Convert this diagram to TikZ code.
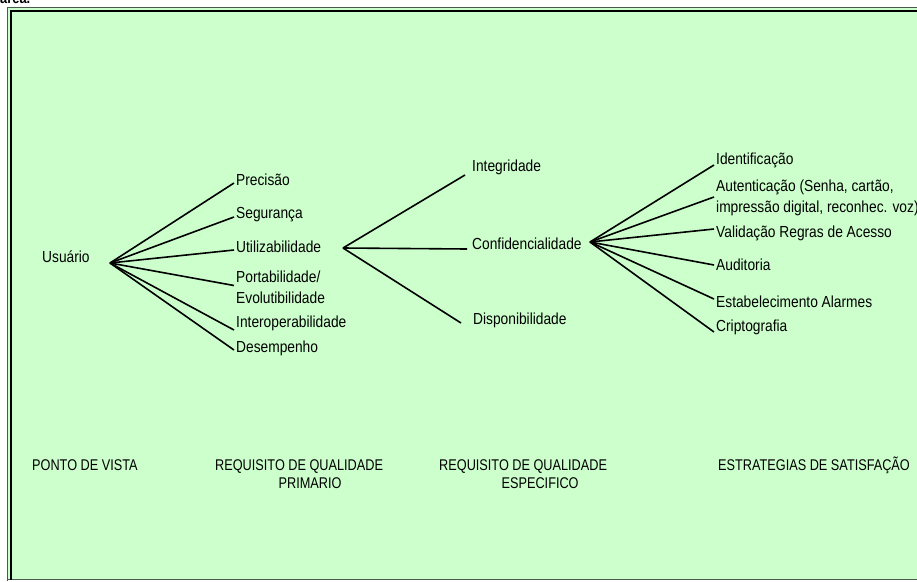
\documentclass[tikz,border=0pt]{standalone}
\usepackage{fontspec}
\setmainfont{Liberation Sans}[FakeStretch=0.86]
\newfontfamily\capsfont{Liberation Sans}[FakeStretch=0.82]
\definecolor{bggreen}{HTML}{CCFFCC}
\definecolor{framegray}{HTML}{4A5A4A}
\tikzset{
  lbl/.style={anchor=west, inner sep=2pt, align=left, font=\fontsize{16}{20.5}\selectfont},
  hdr/.style={anchor=west, inner sep=2pt, align=center, font=\capsfont\fontsize{15.5}{18}\selectfont},
  branch/.style={line width=1.6pt, black}
}
\begin{document}
\begin{tikzpicture}[x=1pt, y=-1pt]
        \useasboundingbox (0,0) rectangle (917,581);
        % Draw the green panel and its double frame
        \fill[bggreen] (8,8) rectangle (917,580);
        \draw[framegray, line width=1pt] (7.5,581) -- (7.5,7.5) -- (917,7.5);
        \draw[framegray, line width=1pt] (7.5,579.5) -- (917,579.5);
        \draw[black, line width=2.2pt] (11,580) -- (11,11) -- (917,11);
        \node[anchor=base west, inner sep=0pt, font=\bfseries\fontsize{15}{18}\selectfont] (cut) at (0,3) {área.};

        % Point of view
        \node[lbl] (usu) at (40,257) {Usuário};
        \coordinate (hubU) at (110,263);

        % Primary quality requirements
        \node[lbl] (prec) at (234,180) {Precisão};
        \node[lbl] (seg) at (234,215) {Segurança};
        \node[lbl] (util) at (234,247) {Utilizabilidade};
        \node[lbl] (port) at (234,287.5) {Portabilidade/\\Evolutibilidade};
        \node[lbl] (inter) at (234,323) {Interoperabilidade};
        \node[lbl] (desemp) at (234,348) {Desempenho};
        \coordinate (hubP) at (343,248);

        \draw[branch] (hubU) -- ([yshift=-3pt]prec.west);
        \draw[branch] (hubU) -- ([yshift=-2pt]seg.west);
        \draw[branch] (hubU) -- ([yshift=-3pt]util.west);
        \draw[branch] (hubU) -- ([yshift=2pt]port.west);
        \draw[branch] (hubU) -- ([yshift=-7pt]inter.west);
        \draw[branch] (hubU) -- ([yshift=-2pt]desemp.west);

        % Specific quality requirements
        \node[lbl] (integ) at (470,167) {Integridade};
        \node[lbl] (conf) at (470,244) {Confidencialidade};
        \node[lbl] (disp) at (471,320) {Disponibilidade};
        \coordinate (hubC) at (590,242);

        \draw[branch] (hubP) -- ([xshift=-5pt,yshift=-8pt]integ.west);
        \draw[branch] (hubP) -- ([xshift=-3pt,yshift=-5pt]conf.west);
        \draw[branch] (hubP) -- ([xshift=-10pt,yshift=-3pt]disp.west);

        % Satisfaction strategies
        \node[lbl] (ident) at (714,160) {Identificação};
        \node[lbl] (aut) at (714,198) {Autenticação (Senha, cartão,\\impressão digital, reconhec. voz)};
        \node[lbl] (valid) at (714,233) {Validação Regras de Acesso};
        \node[lbl] (audit) at (714,265) {Auditoria};
        \node[lbl] (estab) at (714,302) {Estabelecimento Alarmes};
        \node[lbl] (cripto) at (714,327) {Criptografia};

        \draw[branch] (hubC) -- ([yshift=-5pt]ident.west);
        \draw[branch] (hubC) -- ([yshift=1pt]aut.west);
        \draw[branch] (hubC) -- ([yshift=4pt]valid.west);
        \draw[branch] (hubC) -- (audit.west);
        \draw[branch] (hubC) -- ([yshift=3pt]estab.west);
        \draw[branch] (hubC) -- ([yshift=-5pt]cripto.west);

        % Column headings
        \node[hdr] (hview) at (30,465) {PONTO DE VISTA};
        \node[hdr] (hprim) at (213,474) {REQUISITO DE QUALIDADE\\\hspace*{22pt}PRIMARIO};
        \node[hdr] (hspec) at (437,474) {REQUISITO DE QUALIDADE\\\hspace*{34pt}ESPECIFICO};
        \node[hdr] (hstrat) at (716,465) {ESTRATEGIAS DE SATISFAÇÃO};
    \end{tikzpicture}
\end{document}
